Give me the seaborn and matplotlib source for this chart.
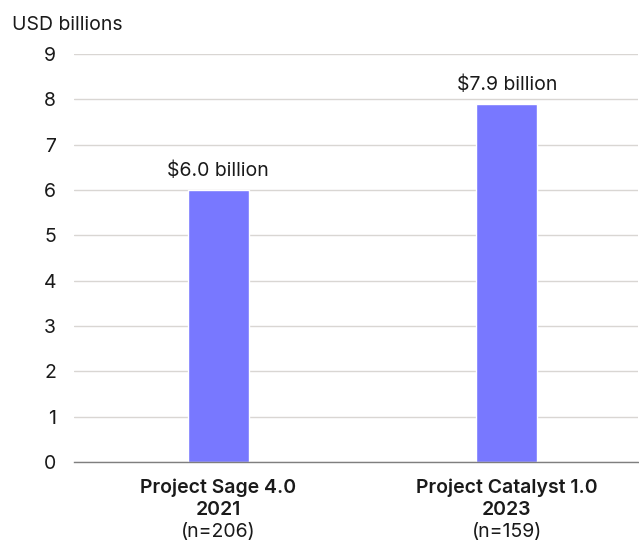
import numpy as np
import pandas as pd
import matplotlib
matplotlib.use("Agg")
import matplotlib.pyplot as plt
import matplotlib.transforms as mtransforms
import seaborn as sns

# data
projects = ["Project Sage 4.0", "Project Catalyst 1.0"]
years = ["2021", "2023"]
sample_sizes = ["(n=206)", "(n=159)"]
values = [6.0, 7.9]
value_labels = ["$6.0 billion", "$7.9 billion"]

df = pd.DataFrame({"project": projects, "value": values})

sns.set_theme(style="white")
plt.rcParams["font.family"] = ["Inter", "DejaVu Sans"]

fig = plt.figure(figsize=(6.39, 5.46), dpi=100)
ax = fig.add_axes([0.1158, 0.1538, 0.8826, 0.7473])

sns.barplot(data=df, x="project", y="value", color="#7878FF", saturation=1,
            width=0.2126, ax=ax)

ax.set_ylim(0, 9)
ax.set_xlim(-0.5, 1.455)
ax.set_yticks(range(0, 10))
ax.yaxis.grid(True, color="#d9d6d3", linewidth=1)
ax.set_axisbelow(True)
for s in ["top", "right", "left"]:
    ax.spines[s].set_visible(False)
ax.spines["bottom"].set_color("#7f7f7f")
ax.spines["bottom"].set_linewidth(1)
ax.tick_params(axis="y", length=0, pad=13, labelsize=14, labelcolor="#1a1a1a")
ax.tick_params(axis="x", length=0)
ax.set_xticklabels([""] * len(projects))
ax.set_xlabel("")
ax.set_ylabel("")

# value labels above bars
for i, (v, lab) in enumerate(zip(values, value_labels)):
    ax.annotate(lab, (i, v), xytext=(0, 7), textcoords="offset points",
                ha="center", va="bottom", fontsize=14, color="#1a1a1a")

# category labels: name + year bold, sample size regular
trans = mtransforms.blended_transform_factory(ax.transData, fig.transFigure)
for i in range(len(projects)):
    ax.text(i, 1 - 488 / 546, projects[i], transform=trans, ha="center", va="center",
            fontsize=14, fontweight="semibold", color="#1a1a1a")
    ax.text(i, 1 - 510 / 546, years[i], transform=trans, ha="center", va="center",
            fontsize=14, fontweight="semibold", color="#1a1a1a")
    ax.text(i, 1 - 532 / 546, sample_sizes[i], transform=trans, ha="center", va="center",
            fontsize=14, color="#1a1a1a")

fig.text(12 / 639, 1 - 25 / 546, "USD billions", ha="left", va="center",
         fontsize=14, color="#1a1a1a")

fig.savefig("out.png", dpi=100)
